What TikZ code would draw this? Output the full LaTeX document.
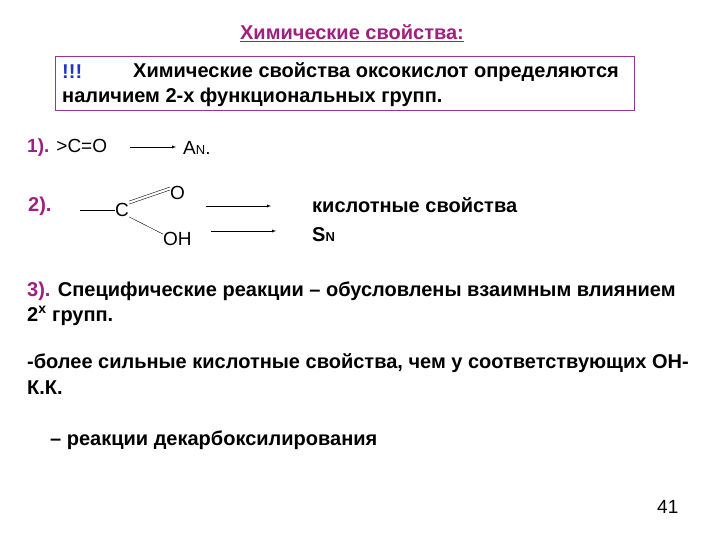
\documentclass[tikz,border=0pt]{standalone}
\usepackage{fontspec}
\setmainfont{Liberation Sans}
\definecolor{mag}{HTML}{A0207F}
\definecolor{boxc}{HTML}{993399}
\definecolor{bl}{HTML}{2233CC}
\begin{document}
\begin{tikzpicture}[x=1pt,y=-1pt,
  txt/.style={anchor=west,inner sep=0pt,font=\fontsize{20}{24}\selectfont\bfseries},
  reg/.style={anchor=west,inner sep=0pt,font=\fontsize{19}{22}\selectfont},
  arr/.style={-latex,thin}]
\useasboundingbox[fill=white] (0,0) rectangle (720,540);
\node[inner sep=0pt,font=\fontsize{20}{24}\selectfont\bfseries,text=mag] (title) at (352,33) {\underline{Химические свойства:}};
\draw[boxc,thick] (55,56) rectangle (634,110);
\node[txt,text=bl] (ex) at (62,72) {!!!};
\node[txt] (l1) at (133,72) {Химические свойства оксокислот определяются};
\node[txt] (l2) at (62,97) {наличием 2-х функциональных групп.};
\node[reg] (n1) at (27,148) {\textcolor{mag}{\textbf{1).}} >C=O};
\coordinate (a1s) at (130,147); \coordinate (a1e) at (176,147);
\draw[arr] (a1s) -- (a1e);
\node[reg] (an) at (183,148) {A{\fontsize{13}{15}\selectfont N}.};
\node[txt,text=mag] (n2) at (28,206) {2).};
\node[reg] (C) at (115,210) {C};
\coordinate (b0) at (80,210);
\draw (b0) -- (C.west);
\node[reg] (O) at (170,193) {O};
\node[reg] (OH) at (163,239) {OH};
\draw ([yshift=-1pt]C.north east) -- ([yshift=3pt]O.west);
\draw ([yshift=2pt]C.north east) -- ([yshift=6pt]O.west);
\draw (C.south east) -- ([yshift=-2pt]OH.north west);
\coordinate (a2s) at (206,206); \coordinate (a2e) at (271,206);
\coordinate (a3s) at (211,231); \coordinate (a3e) at (276,231);
\draw[arr] (a2s) -- (a2e);
\draw[arr] (a3s) -- (a3e);
\node[txt] (ks) at (312,205) {кислотные свойства};
\node[txt] (sn) at (312,235) {S{\fontsize{13}{15}\selectfont N}};
\node[txt] (l3) at (27,291) {\textcolor{mag}{3).} Специфические реакции – обусловлены взаимным влиянием};
\node[txt] (l4) at (27,316) {2\textsuperscript{x} групп.};
\node[txt] (l5) at (27,363) {-более сильные кислотные свойства, чем у соответствующих ОН-};
\node[txt] (l6) at (27,388) {К.К.};
\node[txt] (l7) at (50,440) {– реакции декарбоксилирования};
\node[reg] (pg) at (657,507) {41};
\end{tikzpicture}
\end{document}
